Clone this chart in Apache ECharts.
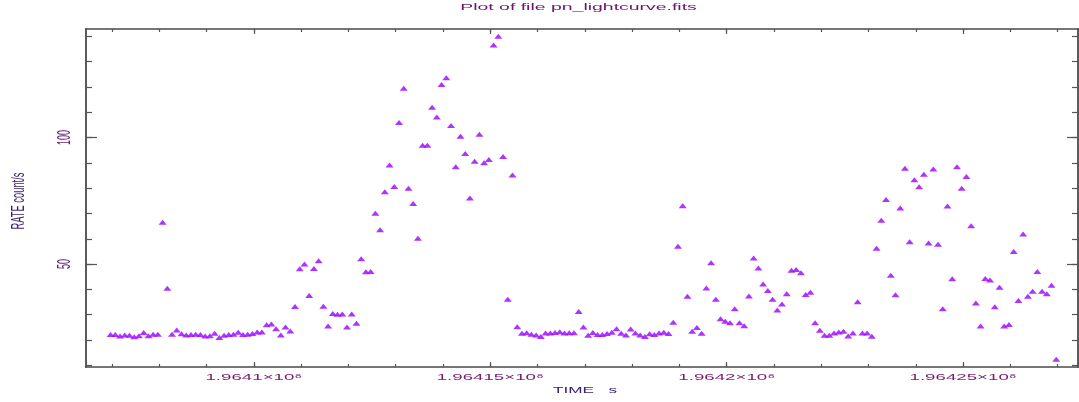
<!DOCTYPE html>
<html>
<head>
<meta charset="utf-8">
<script src="https://cdn.jsdelivr.net/npm/echarts@6/dist/echarts.min.js"></script>
<style>
  html, body { margin: 0; padding: 0; background: #ffffff; }
  #chart { width: 1079px; height: 402px; }
</style>
</head>
<body>
<div id="chart"></div>
<script>
// Light curve: count rate in 100 s bins
const binStart = 196406970;   // TIME of the first bin (s)
const binWidth = 100;         // TIMEDEL (s)

const rates = [
  22.2, 22.2, 21.6, 22.0, 21.9, 21.3, 21.7, 23.0, 21.7, 22.3,
  22.3, 66.5, 40.5, 22.3, 24.0, 22.5, 22.0, 22.2, 22.3, 22.2,
  21.6, 21.7, 22.7, 21.0, 21.9, 22.2, 22.3, 23.1, 22.2, 22.3,
  22.6, 23.2, 23.2, 26.0, 26.3, 24.5, 22.0, 25.1, 23.6, 33.2,
  48.2, 50.0, 37.6, 48.3, 51.3, 33.3, 25.5, 30.5, 30.2, 30.3,
  25.1, 30.3, 26.6, 52.1, 47.0, 47.1, 70.1, 63.6, 78.6, 89.2,
  80.7, 106.0, 119.5, 80.0, 73.9, 60.2, 97.0, 97.0, 112.0, 108.1,
  121.0, 123.6, 104.8, 88.5, 100.5, 93.7, 76.1, 90.6, 101.3, 90.0,
  91.3, 136.6, 140.0, 92.5, 36.1, 85.2, 25.2, 22.7, 22.9, 22.3,
  22.0, 21.4, 22.8, 22.8, 23.0, 23.3, 22.8, 22.9, 22.9, 31.3,
  25.1, 21.9, 23.0, 22.2, 22.2, 22.6, 23.1, 24.5, 22.7, 22.0,
  24.4, 22.8, 22.0, 21.4, 22.5, 22.2, 22.8, 23.1, 22.6, 27.0,
  57.1, 73.1, 37.3, 23.5, 24.9, 22.7, 40.6, 50.5, 36.1, 28.4,
  27.4, 26.8, 32.4, 26.8, 25.6, 37.4, 52.4, 48.5, 42.1, 39.6,
  36.1, 31.9, 34.2, 38.3, 47.6, 47.9, 46.6, 38.0, 38.9, 26.8,
  23.9, 21.9, 21.9, 22.8, 23.2, 23.5, 21.6, 22.8, 35.1, 22.8,
  22.8, 21.5, 56.3, 67.3, 75.5, 45.6, 37.9, 72.2, 87.9, 58.8,
  83.3, 80.6, 85.5, 58.3, 87.6, 57.8, 32.4, 73.0, 44.2, 88.5,
  80.0, 84.6, 65.2, 34.6, 25.5, 44.3, 43.7, 33.1, 40.9, 25.5,
  26.1, 55.0, 35.6, 61.9, 37.3, 39.3, 47.1, 39.3, 38.3, 41.6,
  12.4
];

// Axis ranges, ticks and tick labels
const xRange = [196406450, 196427430];
const yRange = [9.34, 142.9];
const xMajorTicks = [196410000, 196415000, 196420000, 196425000];
const xTickLabels = ['1.9641\u00d710\u2078', '1.96415\u00d710\u2078', '1.9642\u00d710\u2078', '1.96425\u00d710\u2078'];
const xMinorTicks = [
  196407000, 196408000, 196409000, 196410000, 196411000, 196412000, 196413000,
  196414000, 196415000, 196416000, 196417000, 196418000, 196419000, 196420000,
  196421000, 196422000, 196423000, 196424000, 196425000, 196426000, 196427000
];
const yMajorTicks = [50, 100];
const yTickLabels = ['50', '100'];
const yMinorTicks = [10, 20, 30, 40, 50, 60, 70, 80, 90, 100, 110, 120, 130, 140];

const titleText = 'Plot of file pn_lightcurve.fits';
const xName = 'TIME   s';
const yName = 'RATE count/s';

const points = rates.map((r, i) => [binStart + i * binWidth, r]);

const frameColor = '#4a4a4a';
const tickColor = '#555555';

function xAxisDef(pos, ticks, len, withLine) {
  return {
    type: 'value', position: pos, min: xRange[0], max: xRange[1],
    axisLine: { show: withLine, onZero: false, lineStyle: { color: frameColor, width: 1.5 } },
    axisTick: { show: true, inside: true, length: len, customValues: ticks,
                lineStyle: { color: tickColor, width: 1.2 } },
    axisLabel: { show: false },
    splitLine: { show: false }
  };
}

function yAxisDef(pos, ticks, len, withLine) {
  return {
    type: 'value', position: pos, min: yRange[0], max: yRange[1],
    axisLine: { show: withLine, onZero: false, lineStyle: { color: frameColor, width: 1.8 } },
    axisTick: { show: true, inside: true, length: len, customValues: ticks,
                lineStyle: { color: tickColor, width: 1.2 } },
    axisLabel: { show: false },
    splitLine: { show: false }
  };
}

const chart = echarts.init(document.getElementById('chart'), null, { renderer: 'canvas' });
chart.setOption({
  backgroundColor: '#ffffff',
  animation: false,
  grid: { left: 86, right: 1, top: 29, bottom: 35, containLabel: false },
  xAxis: [
    xAxisDef('bottom', xMajorTicks, 5, true),
    xAxisDef('bottom', xMinorTicks, 3, false),
    xAxisDef('top', xMajorTicks, 5, true),
    xAxisDef('top', xMinorTicks, 3, false)
  ],
  yAxis: [
    yAxisDef('left', yMajorTicks, 11, true),
    yAxisDef('left', yMinorTicks, 6, false),
    yAxisDef('right', yMajorTicks, 11, true),
    yAxisDef('right', yMinorTicks, 6, false)
  ],
  series: [{
    type: 'scatter',
    xAxisIndex: 0, yAxisIndex: 0,
    symbol: 'triangle',
    symbolSize: [8, 5],
    itemStyle: { color: '#9a00ff' },
    data: points
  }]
});

// Plot lettering: wide, flattened PLT-style characters
function label(str, x, y, size, color, sx, sy, rotation) {
  return {
    type: 'text', x: x, y: y, scaleX: sx, scaleY: sy, rotation: rotation || 0,
    silent: true, z: 10,
    style: {
      text: str, fill: color,
      font: size + 'px "Liberation Sans", Arial, sans-serif',
      align: 'center', verticalAlign: 'middle',
      textAlign: 'center', textVerticalAlign: 'middle'
    }
  };
}

const px = v => chart.convertToPixel({ xAxisIndex: 0 }, v);
const py = v => chart.convertToPixel({ yAxisIndex: 0 }, v);

const texts = [];
texts.push(label(titleText, 578.5, 7.5, 11.5, '#6e1470', 1.69, 0.83));
xMajorTicks.forEach((v, i) => {
  texts.push(label(xTickLabels[i], px(v), 377.5, 11, '#7a1d72', 1.7, 0.88));
});
texts.push(label(xName, 585, 391, 10, '#3b2170', 1.72, 0.86));
yMajorTicks.forEach((v, i) => {
  texts.push(label(yTickLabels[i], 65, py(v), 11, '#5a1d72', 0.82, 1.65, Math.PI / 2));
});
texts.push(label(yName, 18.5, 201, 11, '#3b2170', 0.85, 1.68, Math.PI / 2));

chart.setOption({ graphic: texts });
</script>
</body>
</html>
